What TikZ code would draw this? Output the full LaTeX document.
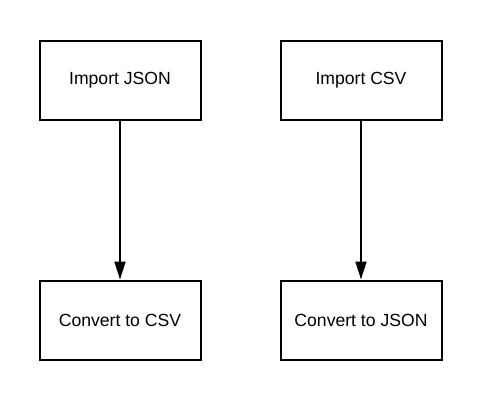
\documentclass[tikz,border=0pt]{standalone}
\usepackage{fontspec}
\setmainfont{Liberation Sans}
\usetikzlibrary{arrows.meta}
\begin{document}
\begin{tikzpicture}[x=1pt,y=-1pt,
  box/.style={draw=black,line width=2pt,minimum width=161pt,minimum height=79pt,inner sep=0pt,font=\fontsize{17.6}{20}\selectfont},
  conn/.style={line width=2pt,-{Triangle[length=18pt,width=11pt]}}]
\useasboundingbox[fill=white] (0,0) rectangle (480,400);
\node[box] (ij) at (120,80) {Import JSON};
\node[box] (ic) at (361,80) {Import CSV};
\node[box] (cc) at (120,320) {Convert to CSV};
\node[box] (cj) at (361,320) {Convert to JSON};
\draw[conn] (ij) -- (cc);
\draw[conn] (ic) -- (cj);
\end{tikzpicture}
\end{document}
